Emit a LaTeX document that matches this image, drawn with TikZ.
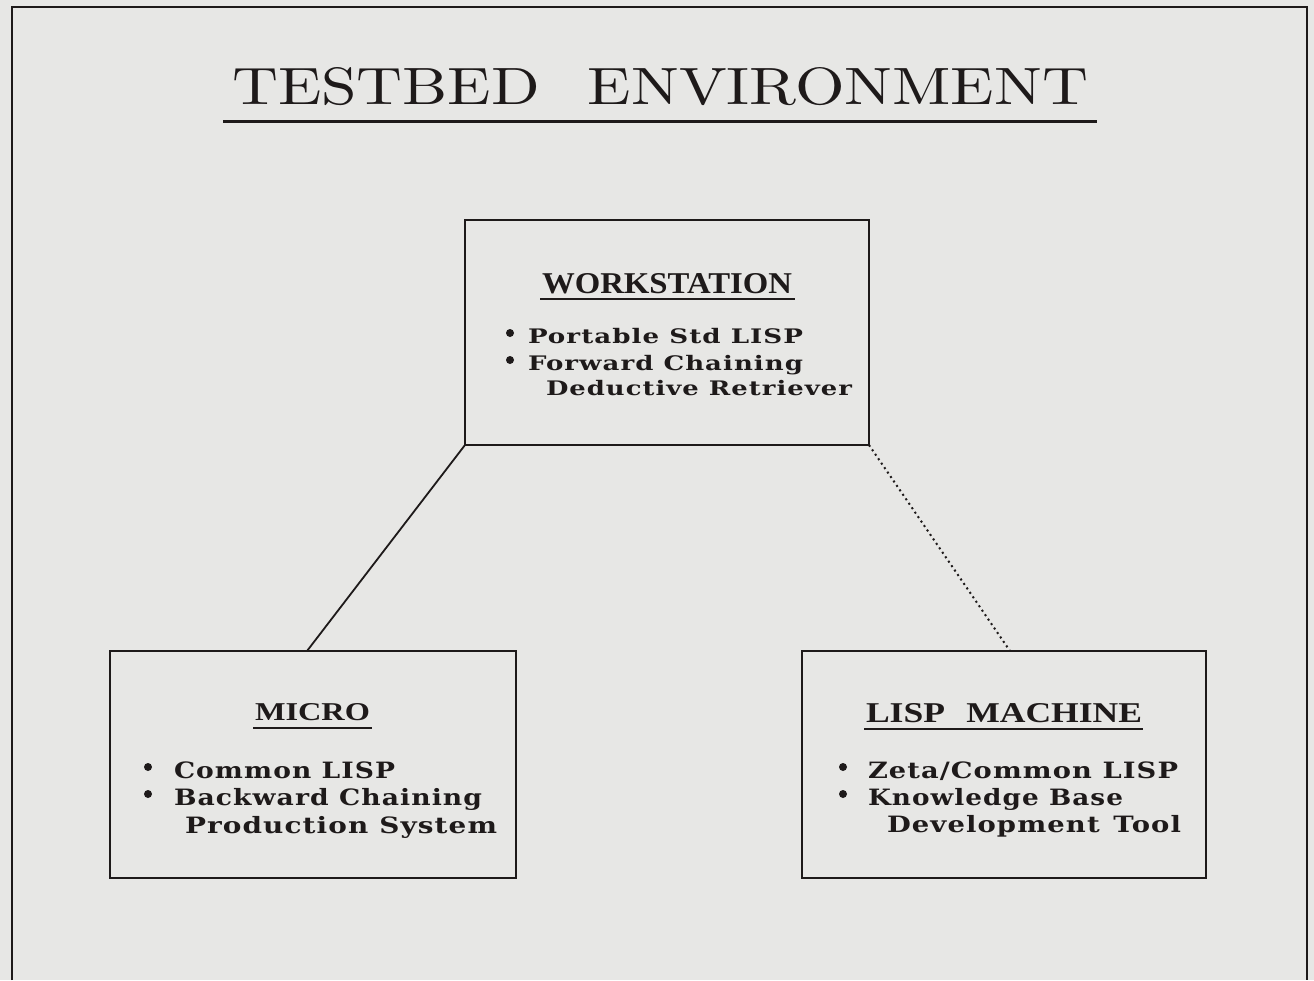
\documentclass[tikz,border=0pt]{standalone}
\usepackage{fontspec}
\usepackage{graphicx}
\newfontfamily\bodyfont[LetterSpace=4]{DejaVu Serif}
\newfontfamily\headfont{Liberation Serif}
\definecolor{paper}{HTML}{E7E7E5}
\definecolor{ink}{HTML}{1E1A1A}
% stretch a line of text to a given width, keeping its height
\newcommand\fitw[2]{\resizebox{#1}{\height}{#2}}
\newcommand\fitwh[3]{\resizebox{#1}{#2}{#3}}
\begin{document}
\begin{tikzpicture}[x=1pt,y=-1pt,
  every node/.style={inner sep=0pt, outer sep=0pt, text=ink},
  panel/.style={draw=ink, line width=2pt, anchor=north west, minimum width=#1},
  wsline/.style={anchor=base west, font=\bodyfont\bfseries\fontsize{20}{22}\selectfont},
  boxline/.style={anchor=base west, font=\bodyfont\bfseries\fontsize{22.5}{24}\selectfont},
  head/.style={anchor=base west, font=\headfont\bfseries},
  bul/.style={circle, fill=ink, minimum size=8pt},
  rule/.style={draw=ink, line width=2pt},
  link/.style={draw=ink, line width=1.8pt},
  dotlink/.style={draw=ink, line width=2pt, dash pattern=on 2pt off 3.4pt}]
\fill[paper] (0,0) rectangle (1314,980);
\useasboundingbox (0,0) rectangle (1314,980);

% outer frame
\draw[ink, line width=2pt] (12,980) -- (12,7) -- (1307,7) -- (1307,980);

% title
\node[anchor=base west] (title) at (232,104)
  {\fitwh{856pt}{37pt}{TESTBED\hspace{0.75em}ENVIRONMENT}};
\draw[rule, line width=2.5pt] (223,121.5) coordinate (tl) -- (1097,121.5) coordinate (tr);

% panels
\node[panel=404pt, minimum height=225pt] (ws) at (465,220) {};
\node[panel=406pt, minimum height=227pt] (micro) at (110,651) {};
\node[panel=404pt, minimum height=227pt] (lisp) at (802,651) {};

% connectors
\draw[link] (ws.south west) -- ([xshift=197pt]micro.north west);
\draw[dotlink] (ws.south east) -- ([xshift=208pt]lisp.north west);

% WORKSTATION panel text
\node[head] (wsh) at (542,293) {\fitwh{250pt}{20pt}{WORKSTATION}};
\draw[rule] (540,299) coordinate (wsu1) -- (795,299) coordinate (wsu2);
\node[bul] (wsb1) at (510,333) {};
\node[wsline] (ws1) at (528,343) {\fitw{275pt}{Portable Std LISP}};
\node[bul] (wsb2) at (510,360) {};
\node[wsline] (ws2) at (528,370) {\fitw{275pt}{Forward Chaining}};
\node[wsline] (ws3) at (546,395) {\fitw{306pt}{Deductive Retriever}};

% MICRO panel text
\node[head] (mh) at (255,720) {\fitwh{115pt}{17pt}{MICRO}};
\draw[rule] (253,728) coordinate (mu1) -- (372,728) coordinate (mu2);
\node[bul] (mb1) at (148,767) {};
\node[boxline] (m1) at (174,778) {\fitw{221pt}{Common LISP}};
\node[bul] (mb2) at (148,794) {};
\node[boxline] (m2) at (174,805) {\fitw{308pt}{Backward Chaining}};
\node[boxline] (m3) at (185,833) {\fitw{312pt}{Production System}};

% LISP MACHINE panel text
\node[head] (lh) at (866,722) {\fitwh{276pt}{19pt}{LISP\hspace{0.6em}MACHINE}};
\draw[rule] (864,729) coordinate (lu1) -- (1143,729) coordinate (lu2);
\node[bul] (lb1) at (843,767) {};
\node[boxline] (l1) at (868,778) {\fitw{310pt}{Zeta/Common LISP}};
\node[bul] (lb2) at (843,794) {};
\node[boxline] (l2) at (868,805) {\fitw{255pt}{Knowledge Base}};
\node[boxline] (l3) at (887,832) {\fitw{294pt}{Development\hspace{0.5em}Tool}};
\end{tikzpicture}
\end{document}
